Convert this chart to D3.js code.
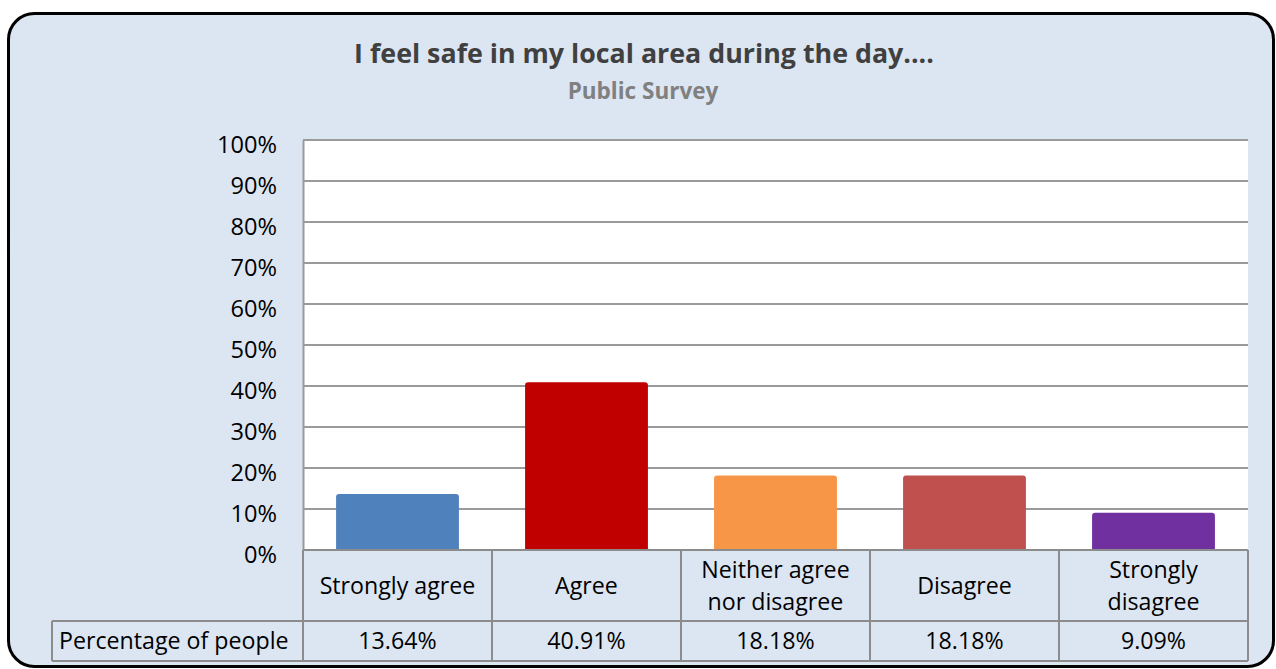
<!DOCTYPE html>
<html><head><meta charset="utf-8">
<script src="https://cdn.jsdelivr.net/npm/d3@7"></script>
<style>html,body{margin:0;padding:0;background:#fff;}svg{display:block;}</style>
</head><body>
<svg id="c" width="1276" height="669"></svg>
<script>
const categories = ["Strongly agree", "Agree", "Neither agree nor disagree", "Disagree", "Strongly disagree"];
const categoryLines = [["Strongly agree"], ["Agree"], ["Neither agree", "nor disagree"], ["Disagree"], ["Strongly", "disagree"]];
const values = [13.64, 40.91, 18.18, 18.18, 9.09];
const valueLabels = ["13.64%", "40.91%", "18.18%", "18.18%", "9.09%"];
const colors = ["#4f81bd", "#c00000", "#f79646", "#c0504d", "#7030a0"];
const yTicks = [0, 10, 20, 30, 40, 50, 60, 70, 80, 90, 100];
const seriesName = "Percentage of people";
const title = "I feel safe in my local area during the day....";
const subtitle = "Public Survey";

const FONT = "'Open Sans', 'Noto Sans', sans-serif";
const svg = d3.select("#c");

svg.append("rect").attr("x", 8.5).attr("y", 13.5).attr("width", 1265).attr("height", 653)
  .attr("rx", 26).attr("ry", 26).attr("fill", "#dce6f2").attr("stroke", "#000").attr("stroke-width", 3);

const L = 303, R = 1248, T = 140, B = 550;
const x = d3.scaleBand().domain(categories).range([L, R]).paddingInner(0.35).paddingOuter(0.175);
const xc = d3.scaleBand().domain(categories).range([L, R]);
const y = d3.scaleLinear().domain([0, 100]).range([B, T]);

svg.append("rect").attr("x", L).attr("y", T).attr("width", R - L).attr("height", B - T).attr("fill", "#fff");

// gridlines
svg.append("g").selectAll("line").data(yTicks.filter(d => d > 0)).join("line")
  .attr("x1", L).attr("x2", R).attr("y1", d => y(d)).attr("y2", d => y(d))
  .attr("stroke", "#9a9a9a").attr("stroke-width", 2);

// y axis
const yAxis = d3.axisLeft(y).tickValues(yTicks).tickFormat(d => d + "%").tickSize(0).tickPadding(26);
const ga = svg.append("g").attr("transform", `translate(${L},0)`).call(yAxis);
ga.select(".domain").attr("stroke", "#9a9a9a").attr("stroke-width", 2);
ga.selectAll("text").attr("font-family", FONT).attr("font-size", 23.6).attr("fill", "#000").attr("dy", "0.525em").attr("y", 0);

// bars
svg.append("g").selectAll("path").data(values).join("path")
  .attr("fill", (d, i) => colors[i])
  .attr("d", (d, i) => {
    const x0 = x(categories[i]), w = x.bandwidth(), y0 = y(d), r = 3;
    return `M${x0},${B}V${y0 + r}Q${x0},${y0} ${x0 + r},${y0}H${x0 + w - r}Q${x0 + w},${y0} ${x0 + w},${y0 + r}V${B}Z`;
  });

// data table
const rowTop = B, rowMid = 621, rowBot = 661, tableLeft = 52;
const g = svg.append("g").attr("stroke", "#8c8c8c").attr("stroke-width", 2);
g.append("line").attr("x1", L).attr("x2", R).attr("y1", B).attr("y2", B);
g.append("line").attr("x1", tableLeft).attr("x2", R).attr("y1", rowMid).attr("y2", rowMid);
g.append("line").attr("x1", tableLeft).attr("x2", R).attr("y1", rowBot).attr("y2", rowBot);
g.append("line").attr("x1", tableLeft).attr("x2", tableLeft).attr("y1", rowMid).attr("y2", rowBot);
const vx = categories.map(c => xc(c)).concat([R]);
g.selectAll("line.v").data(vx).join("line").attr("class", "v")
  .attr("x1", d => d).attr("x2", d => d).attr("y1", rowTop).attr("y2", rowBot);

const fs = 23.2;
categories.forEach((c, i) => {
  const cx = xc(c) + xc.bandwidth() / 2;
  const lines = categoryLines[i];
  const cy = (rowTop + rowMid) / 2;
  const lh = 32;
  lines.forEach((t, j) => {
    svg.append("text").attr("x", cx).attr("y", cy + (j - (lines.length - 1) / 2) * lh)
      .attr("dy", "0.35em").attr("text-anchor", "middle").attr("font-family", FONT).attr("font-size", fs).attr("fill", "#000").text(t);
  });
  svg.append("text").attr("x", cx).attr("y", (rowMid + rowBot) / 2).attr("dy", "0.35em")
    .attr("text-anchor", "middle").attr("font-family", FONT).attr("font-size", fs).attr("fill", "#000").text(valueLabels[i]);
});
svg.append("text").attr("x", 59).attr("y", (rowMid + rowBot) / 2).attr("dy", "0.35em")
  .attr("font-family", FONT).attr("font-size", fs).attr("fill", "#000").text(seriesName);

svg.append("text").attr("x", 644).attr("y", 63).attr("text-anchor", "middle")
  .attr("font-family", FONT).attr("font-weight", "bold").attr("font-size", 26.8).attr("fill", "#404040").text(title);
svg.append("text").attr("x", 643).attr("y", 99).attr("text-anchor", "middle")
  .attr("font-family", FONT).attr("font-weight", "bold").attr("font-size", 22.5).attr("fill", "#808080").text(subtitle);
</script>
</body></html>
